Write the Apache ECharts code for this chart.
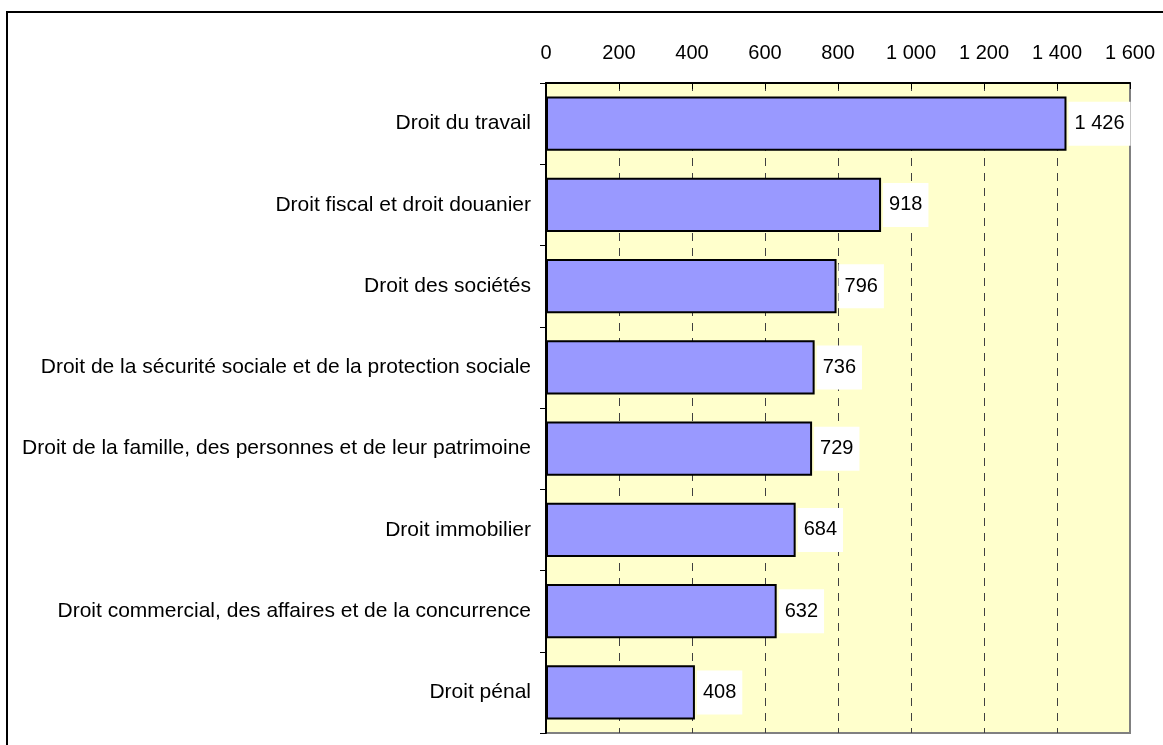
<!DOCTYPE html>
<html>
<head>
<meta charset="utf-8">
<script src="https://cdn.jsdelivr.net/npm/echarts@6/dist/echarts.min.js"></script>
<style>
  html, body { margin: 0; padding: 0; background: #fff; }
  #chart { width: 1163px; height: 745px; }
</style>
</head>
<body>
<div id="chart"></div>
<script>
// categories, top to bottom
var categories = [
    'Droit du travail',
    'Droit fiscal et droit douanier',
    'Droit des sociétés',
    'Droit de la sécurité sociale et de la protection sociale',
    'Droit de la famille, des personnes et de leur patrimoine',
    'Droit immobilier',
    'Droit commercial, des affaires et de la concurrence',
    'Droit pénal'
];
var values = [1426, 918, 796, 736, 729, 684, 632, 408];
var tickValues = [0, 200, 400, 600, 800, 1000, 1200, 1400, 1600];

// 1426 -> "1 426"
function fmt(v) {
    return String(v).replace(/\B(?=(\d{3})+(?!\d))/g, ' ');
}

var chart = echarts.init(document.getElementById('chart'));

var option = {
    animation: false,
    textStyle: { fontFamily: 'Liberation Sans, Arial, sans-serif' },
    graphic: [
        {
            type: 'rect',
            shape: { x: 7, y: 12, width: 1300, height: 900 },
            style: { fill: 'none', stroke: '#000', lineWidth: 2 },
            silent: true
        }
    ],
    grid: {
        left: 546,
        top: 83,
        right: 33,
        bottom: 12,
        show: true,
        backgroundColor: '#FFFFCC',
        borderColor: '#808080',
        borderWidth: 2
    },
    xAxis: {
        type: 'value',
        position: 'top',
        min: tickValues[0],
        max: tickValues[tickValues.length - 1],
        interval: 200,
        axisLine: { show: true, lineStyle: { color: '#000', width: 2 } },
        axisTick: { show: true, inside: true, length: 6, lineStyle: { color: '#000' } },
        axisLabel: {
            margin: 20,
            fontSize: 20,
            color: '#000',
            formatter: function (v) { return fmt(v); }
        },
        splitLine: {
            show: true,
            showMinLine: false,
            showMaxLine: false,
            lineStyle: { color: '#404040', width: 1, type: [8, 7] }
        }
    },
    yAxis: {
        type: 'category',
        inverse: true,
        data: categories,
        axisLine: { show: true, lineStyle: { color: '#000', width: 2 } },
        axisTick: { show: true, length: 6, lineStyle: { color: '#000' } },
        axisLabel: { margin: 15, fontSize: 21, color: '#000' }
    },
    series: [
        {
            type: 'bar',
            data: values,
            barCategoryGap: '33%',
            itemStyle: { color: '#9999FF', borderColor: '#000', borderWidth: 2 },
            label: {
                show: true,
                position: 'right',
                distance: 2,
                fontSize: 20,
                color: '#000',
                backgroundColor: '#fff',
                padding: [12, 6, 12, 6],
                formatter: function (p) { return fmt(p.value); }
            }
        }
    ]
};

chart.setOption(option);
</script>
</body>
</html>
